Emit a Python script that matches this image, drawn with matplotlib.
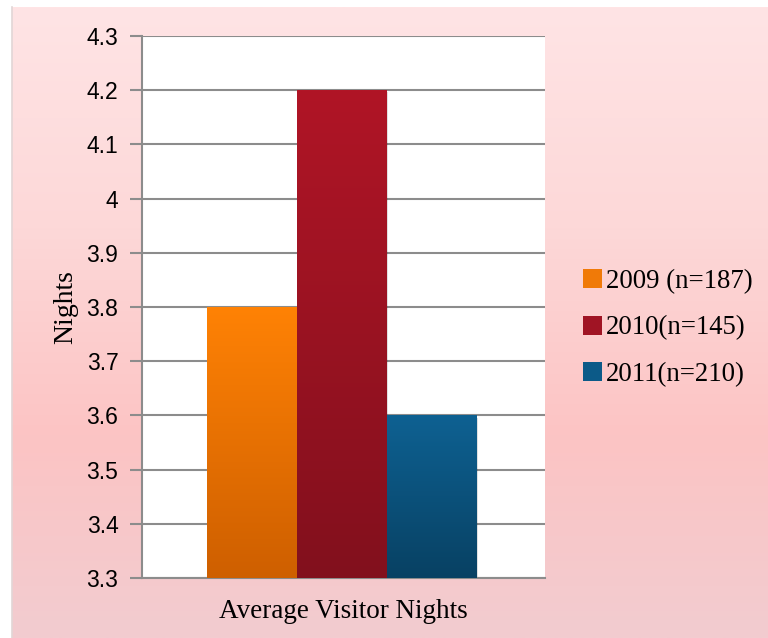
import numpy as np
import matplotlib
matplotlib.use('Agg')
import matplotlib.pyplot as plt
from matplotlib.patches import Patch
from matplotlib.colors import LinearSegmentedColormap

# ---------------------------------------------------------------------------
# Data
# ---------------------------------------------------------------------------
category = 'Average Visitor Nights'
series = ['2009 (n=187)', '2010(n=145)', '2011(n=210)']
values = [3.8, 4.2, 3.6]
y_ticks = [3.3, 3.4, 3.5, 3.6, 3.7, 3.8, 3.9, 4.0, 4.1, 4.2, 4.3]
y_tick_labels = ['3.3', '3.4', '3.5', '3.6', '3.7', '3.8', '3.9', '4', '4.1', '4.2', '4.3']

# top / bottom colours of each bar's gradient
bar_top = ['#FF8205', '#B01526', '#0E6192']
bar_bot = ['#CE5F00', '#82101D', '#084163']
legend_col = ['#F07A08', '#A01424', '#0C5A88']

SERIF = 'Liberation Serif'
SANS = 'Liberation Sans'

fig = plt.figure(figsize=(7.68, 6.38), dpi=100)
fig.patch.set_facecolor('white')

# pink gradient panel behind everything
bg = fig.add_axes([12 / 768, 0, 1 - 12 / 768, 1 - 7 / 638], zorder=-5)
bg_cmap = LinearSegmentedColormap.from_list(
    'bg', [(0.0, '#FFE4E5'), (0.35, '#FDD8D8'), (0.68, '#FCC4C4'), (1.0, '#F2CCD0')])
bg.imshow(np.linspace(0, 1, 256)[:, None], aspect='auto', cmap=bg_cmap,
          extent=[0, 1, 0, 1], origin='upper')
bg.set_xlim(0, 1)
bg.set_ylim(0, 1)
bg.axis('off')
fig.add_artist(plt.Line2D([11.5 / 768, 11.5 / 768], [0, 1 - 7 / 638],
                          color='#E2D6D6', lw=1.2, transform=fig.transFigure))

ax = fig.add_axes([142 / 768, 60 / 638, 403 / 768, 542 / 638])
ax.set_facecolor('white')

width = 0.2233
offsets = [-width - 0.004, -0.004, width - 0.004]
bars = ax.bar(offsets, [v - 3.3 for v in values], width=width,
              bottom=3.3, color='none', edgecolor='none', zorder=3)

for patch, c_top, c_bot in zip(bars.patches, bar_top, bar_bot):
    x0 = patch.get_x()
    x1 = x0 + patch.get_width()
    y0 = patch.get_y()
    y1 = y0 + patch.get_height()
    cmap = LinearSegmentedColormap.from_list('g', [c_top, c_bot])
    # soft shadow
    ax.bar(x0 + patch.get_width() / 2 + 0.004, patch.get_height(), width=patch.get_width(),
           bottom=y0 - 0.004, color='#000000', alpha=0.12, zorder=2, linewidth=0)
    im = ax.imshow(np.linspace(0, 1, 256)[:, None], aspect='auto', cmap=cmap,
                   extent=[x0, x1, y0, y1], origin='upper', zorder=3)
    im.set_clip_path(patch)

ax.set_xlim(-0.5, 0.5)
ax.set_ylim(3.3, 4.3)
ax.set_yticks(y_ticks)
ax.set_yticklabels(y_tick_labels, fontfamily=SANS, fontsize=16.5)
ax.set_xticks([0])
ax.set_xticklabels([category], fontfamily=SERIF, fontsize=19.5)
ax.tick_params(axis='x', length=0, pad=15)
ax.tick_params(axis='y', length=9, width=1.5, color='#8C8C8C', pad=8)
ax.grid(axis='y', color='#8C8C8C', lw=1.5, zorder=1)
ax.set_axisbelow(True)
for s in ['top', 'right']:
    ax.spines[s].set_visible(False)
for s in ['left', 'bottom']:
    ax.spines[s].set_color('#8C8C8C')
    ax.spines[s].set_linewidth(1.5)
ax.set_ylabel('Nights', fontfamily=SERIF, fontsize=20, labelpad=6)

handles = [Patch(facecolor=c, edgecolor='none', label=lab) for c, lab in zip(legend_col, series)]
fig.legend(handles=handles, loc='center left', bbox_to_anchor=(559 / 768, 310 / 638),
           frameon=False, prop={'family': SERIF, 'size': 19.3},
           handlelength=0.7, handleheight=0.7, handletextpad=0.15, labelspacing=0.8)

fig.savefig('out.png', dpi=100)
